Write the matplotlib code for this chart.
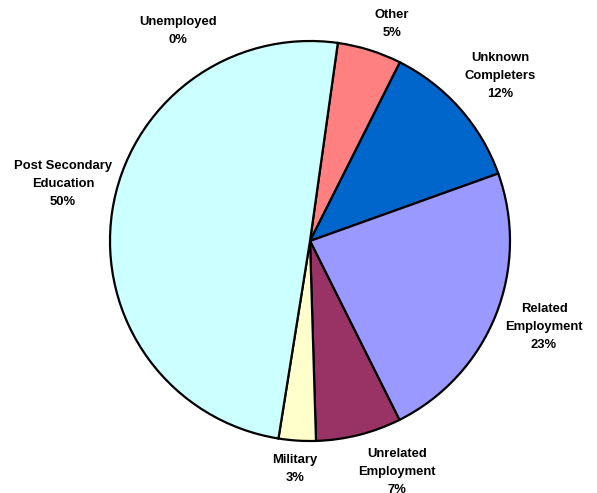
import matplotlib.pyplot as plt

# outcome shares, clockwise from the top
categories = ['Unemployed', 'Other', 'Unknown\nCompleters', 'Related\nEmployment',
              'Unrelated\nEmployment', 'Military', 'Post Secondary\nEducation']
shares = [0.0, 5.2, 12.1, 23.1, 6.9, 3.0, 49.7]
pct_labels = ['0%', '5%', '12%', '23%', '7%', '3%', '50%']
colors = ['#FFFFFF', '#FF8080', '#0066CC', '#9999FF', '#993366', '#FFFFCC', '#CCFFFF']

# label block centres in pixels (x, y from top)
label_pos = [(178, 31), (392, 24), (500, 76), (544, 327), (397, 472), (295, 469), (63, 184)]

W, H = 597, 493
fig = plt.figure(figsize=(W / 100, H / 100), dpi=100)
ax = fig.add_axes([0, 0, 1, 1])

ax.pie(shares, colors=colors, startangle=82, counterclock=False,
       center=(310, H - 241), radius=200,
       wedgeprops=dict(edgecolor='black', linewidth=1.6))

for name, pct, (x, y) in zip(categories, pct_labels, label_pos):
    ax.text(x, H - y, name + '\n' + pct, ha='center', va='center',
            fontsize=9.4, fontweight='bold', family='Liberation Sans',
            linespacing=1.72)

ax.set_xlim(0, W)
ax.set_ylim(0, H)
ax.set_aspect('equal')
ax.axis('off')

fig.savefig('out.png', dpi=100)
